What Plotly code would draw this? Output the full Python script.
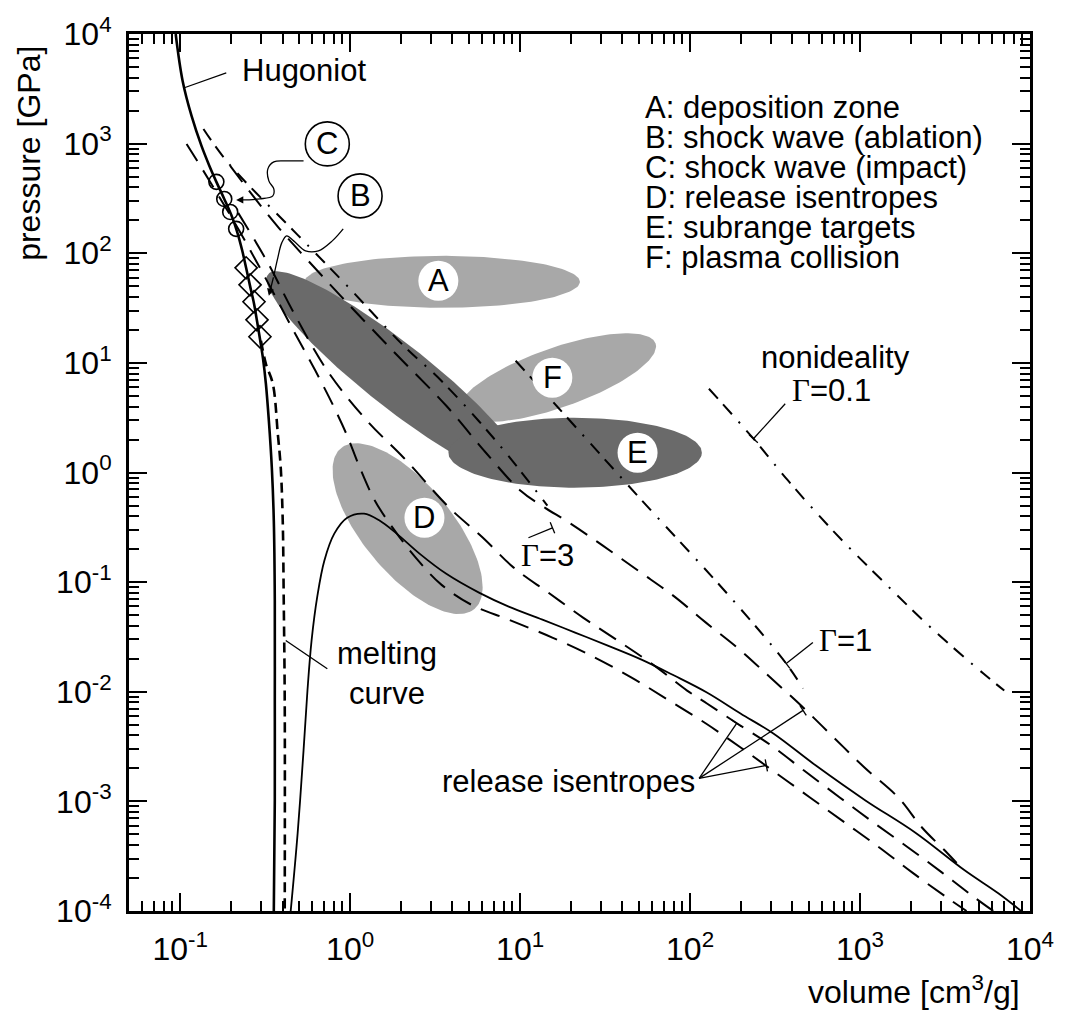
import math
import numpy as np
import plotly.graph_objects as go

# ---------------- curves (volume in cm^3/g, pressure in GPa) ----------------
hugoniot_v = [0.0941, 0.1034, 0.1167, 0.1335, 0.1486, 0.1633, 0.1817, 0.1997, 0.2164, 0.2314,
              0.2443, 0.2577, 0.2720, 0.2831, 0.2947, 0.3068, 0.3194, 0.3325, 0.3462, 0.3556,
              0.3604, 0.3604, 0.3604, 0.3556]
hugoniot_p = [1e4, 3729, 1789, 953, 626, 448, 313, 224, 157, 107,
              73.6, 50.4, 34.6, 24.2, 16.6, 11.1, 6.45, 2.97, 1.106, 0.364,
              0.0678, 0.00831, 0.00102, 1e-4]

impact_v = [0.1633, 0.1817, 0.1970, 0.2135]
impact_p = [448, 313, 238, 167]

ablation_v = [0.2443, 0.2577, 0.2720, 0.2831, 0.2947]
ablation_p = [73.6, 51.5, 36.1, 24.7, 17.3]

melting_v = [0.2987, 0.3194, 0.3509, 0.3753, 0.3906, 0.4013, 0.4068, 0.4123, 0.4123]
melting_p = [15.9, 9.81, 6.45, 2.26, 1.106, 0.364, 0.0678, 0.00831, 1e-4]

binodal_v = [0.447, 0.491, 0.532, 0.561, 0.593, 0.642, 0.705, 0.807, 0.961, 1.207,
             1.496, 1.879, 2.56, 3.68, 5.728, 8.568, 13.53, 21.07, 32.81, 51.8,
             80.66, 125.6, 198, 309, 550, 1076, 2108, 4123, 6506, 8870]
binodal_p = [1e-4, 5.1e-4, 2.92e-3, 0.01026, 0.0293, 0.0753, 0.157, 0.277, 0.387, 0.421,
             0.363, 0.277, 0.182, 0.119, 0.0802, 0.0598, 0.0455, 0.03464, 0.02637, 0.01965,
             0.01405, 0.00984, 0.00633, 0.00416, 0.00212, 0.00102, 5.2e-4, 2.35e-4, 1.45e-4, 1e-4]

isen_hi_v = [0.1970, 0.2683, 0.3802, 0.5465, 0.9605, 1.879, 3.679, 6.293, 10.07, 13.71,
             19.44, 30.68, 50.43, 79.58, 124.0, 195.6, 296.8, 449.9, 691.3, 1062,
             1677, 2314, 3237, 3961]
isen_hi_p = [626, 333.7, 170.4, 90.8, 35.3, 11.86, 4.06, 1.515, 0.6823, 0.4878,
             0.3485, 0.2151, 0.1246, 0.0753, 0.0427, 0.02425, 0.01347, 0.00748, 0.003904, 0.002037,
             0.001086, 5.78e-4, 3.42e-4, 2.45e-4]

isen_mid_v = [0.2194, 0.3281, 0.4589, 0.7343, 1.256, 2.065, 3.830, 6.044, 9.165, 14.66,
              23.46, 37.53, 61.67, 96.05, 125.7, 185.5, 300.8, 468.5, 759.5, 1199,
              1918, 3027, 4716, 6085]
isen_mid_p = [233.5, 81.7, 29.9, 8.47, 2.97, 1.364, 0.4776, 0.2544, 0.1356, 0.0802,
              0.0475, 0.0293, 0.01733, 0.01025, 0.00781, 0.00524, 0.00323, 0.00191, 0.001086, 6.42e-4,
              3.80e-4, 2.25e-4, 1.33e-4, 1e-4]

isen_lo_v = [0.1091, 0.1527, 0.2194, 0.3194, 0.4652, 0.6250, 0.7962, 0.9605, 1.128, 1.399,
             1.830, 2.459, 3.440, 5.145, 8.568, 15.47, 26.83, 45.29, 75.45, 124.0,
             198.4, 317.3, 507.6, 812.0, 1299, 2024, 3237, 4235]
isen_lo_p = [994, 429, 167, 58.4, 19.6, 8.47, 4.06, 2.165, 1.153, 0.5533,
             0.2947, 0.1637, 0.0949, 0.0624, 0.0455, 0.0312, 0.02094, 0.01347, 0.00831, 0.00513,
             0.0031, 0.001834, 0.001086, 6.42e-4, 3.80e-4, 2.25e-4, 1.33e-4, 1e-4]

gamma3_v = [0.1371, 0.1918, 0.4909, 0.9605, 2.065, 3.440, 7.197, 14.47]
gamma3_p = [1361, 667, 147.2, 50.44, 14.32, 6.868, 1.950, 0.498]

gamma1_v = [9.414, 16.77, 49.10, 173.4, 367.9, 461.9]
gamma1_p = [10.45, 3.896, 0.6145, 0.0722, 0.01807, 0.01070]

gamma01_v = [129.1, 236.2, 377.8, 710.1, 1353, 2647, 5319, 7055]
gamma01_p = [5.806, 2.033, 0.8418, 0.2827, 0.1032, 0.03768, 0.01465, 0.01025]

# shaded parameter regions: centre (V, P), semi-axes (px), tilt (deg)
region_name = ["A", "F", "D", "target band", "E"]
region_v = [3.485, 16.55, 2.178, 1.879, 21.07]
region_p = [54.87, 7.331, 0.3074, 7.627, 1.515]
region_a = [139, 105, 105, 165, 128]
region_b = [26, 30, 45, 32, 35]
region_tilt = [0, 19, -50, -38, 0]
region_dark = [False, False, False, True, True]

legend_lines = ["A: deposition zone", "B: shock wave (ablation)", "C: shock wave (impact)",
                "D: release isentropes", "E: subrange targets", "F: plasma collision"]

x_decades = [-1, 0, 1, 2, 3, 4]
y_decades = [-4, -3, -2, -1, 0, 1, 2, 3, 4]

# ---------------- layout geometry ----------------
W, H = 1066, 1014
ML, MR, MT, MB = 129, 27, 33, 103
X_RANGE = [math.log10(0.05), 4.0]
Y_RANGE = [-4.0, 4.0]
PXX = (W - ML - MR) / (X_RANGE[1] - X_RANGE[0])
PXY = (H - MT - MB) / (Y_RANGE[1] - Y_RANGE[0])

FONT = "Liberation Sans, Arial, Helvetica, sans-serif"
INK = "black"
LIGHT = "#a8a8a8"
DARK = "#6a6a6a"
TXT = 31

lg = math.log10


def ellipse(vc, pc, a, b, tilt):
    t = np.linspace(0, 2 * np.pi, 160)
    th = np.radians(tilt)
    dx = a * np.cos(t) * np.cos(th) - b * np.sin(t) * np.sin(th)
    dy = a * np.cos(t) * np.sin(th) + b * np.sin(t) * np.cos(th)
    return 10 ** (lg(vc) + dx / PXX), 10 ** (lg(pc) + dy / PXY)


def crossbar(v, p, v0, p0, half=6.0):
    dx = (lg(v) - lg(v0)) * PXX
    dy = (lg(p) - lg(p0)) * PXY
    n = math.hypot(dx, dy)
    nx, ny = -dy / n, dx / n
    xs = [10 ** (lg(v) + nx * half / PXX), 10 ** (lg(v) - nx * half / PXX)]
    ys = [10 ** (lg(p) + ny * half / PXY), 10 ** (lg(p) - ny * half / PXY)]
    return xs, ys


def minor_vals(lo, hi):
    vals = []
    for e in range(math.floor(lo) - 1, math.ceil(hi) + 1):
        for k in range(2, 10):
            v = k * 10.0 ** e
            if lo <= lg(v) <= hi:
                vals.append(v)
    return vals


fig = go.Figure()

# shaded regions (light first, dark on top)
for dark in (False, True):
    for i in range(len(region_name)):
        if region_dark[i] != dark:
            continue
        ex, ey = ellipse(region_v[i], region_p[i], region_a[i], region_b[i], region_tilt[i])
        fig.add_trace(go.Scatter(x=ex, y=ey, mode="lines", fill="toself",
                                 fillcolor=DARK if dark else LIGHT,
                                 line=dict(width=0, color=DARK if dark else LIGHT),
                                 hoverinfo="skip", name=region_name[i]))

DASHDOT = "13px,8px,13px,10px,2px,10px"
LONGDASH = "20px,11px"

for xs, ys in ((gamma01_v, gamma01_p), (gamma1_v, gamma1_p), (gamma3_v, gamma3_p)):
    fig.add_trace(go.Scatter(x=xs, y=ys, mode="lines", line_shape="spline",
                             line=dict(color=INK, width=2, dash=DASHDOT), hoverinfo="skip"))

for xs, ys in ((isen_hi_v, isen_hi_p), (isen_mid_v, isen_mid_p), (isen_lo_v, isen_lo_p)):
    fig.add_trace(go.Scatter(x=xs, y=ys, mode="lines", line_shape="spline",
                             line=dict(color=INK, width=2, dash=LONGDASH), hoverinfo="skip"))

fig.add_trace(go.Scatter(x=binodal_v, y=binodal_p, mode="lines", line_shape="spline",
                         line=dict(color=INK, width=1.8), hoverinfo="skip"))
fig.add_trace(go.Scatter(x=melting_v, y=melting_p, mode="lines", line_shape="spline",
                         line=dict(color=INK, width=2.6, dash="10px,6px"), hoverinfo="skip"))
fig.add_trace(go.Scatter(x=hugoniot_v, y=hugoniot_p, mode="lines", line_shape="spline",
                         line=dict(color=INK, width=2.6), hoverinfo="skip"))

# leader lines to the labels
leaders = [
    ((0.1867, 4412), (0.1048, 3217), False),
    ((0.734, 0.0162), (0.418, 0.0293), False),
    ((11.2, 0.254), (15.5, 0.313), True),
    ((528, 0.0281), (368, 0.01807), True),
    ((363, 4.24), (236, 2.03), True),
    ((113, 0.00162), (188, 0.00514), True),
    ((113, 0.00162), (462, 0.00676), True),
    ((113, 0.00162), (281, 0.00213), True),
]
lx, ly = [], []
for (v0, p0), (v1, p1), bar in leaders:
    lx += [v0, v1, None]
    ly += [p0, p1, None]
    if bar:
        bx, by = crossbar(v1, p1, v0, p0)
        lx += bx + [None]
        ly += by + [None]
fig.add_trace(go.Scatter(x=lx, y=ly, mode="lines", line=dict(color=INK, width=1.3),
                         hoverinfo="skip"))

# wavy leaders of the circled labels
c_lead_v = [0.5322, 0.4178, 0.3556, 0.3281, 0.3325, 0.3556, 0.3509, 0.2947, 0.2253]
c_lead_p = [695.6, 695.6, 681.1, 588.0, 457.1, 386.4, 333.7, 313.3, 306.8]
b_lead_v = [0.9103, 0.7853, 0.6508, 0.5465, 0.4652, 0.4234, 0.3960, 0.3753, 0.3556]
b_lead_p = [166.9, 129.7, 105.2, 105.2, 129.7, 144.1, 124.4, 90.8, 62.2]
for xs, ys in ((c_lead_v, c_lead_p), (b_lead_v, b_lead_p)):
    fig.add_trace(go.Scatter(x=xs, y=ys, mode="lines", line_shape="spline",
                             line=dict(color=INK, width=1.3), hoverinfo="skip"))

# shock states on the Hugoniot
fig.add_trace(go.Scatter(x=impact_v, y=impact_p, mode="markers",
                         marker=dict(symbol="circle-open", size=15, color=INK,
                                     line=dict(width=1.6, color=INK)), hoverinfo="skip"))
fig.add_trace(go.Scatter(x=ablation_v, y=ablation_p, mode="markers",
                         marker=dict(symbol="diamond-open", size=17, color=INK,
                                     line=dict(width=1.6, color=INK)), hoverinfo="skip"))

# white discs behind region letters, outlined circles for B and C
disc_v = [3.304, 15.47, 49.10, 2.737]
disc_p = [56.0, 7.33, 1.515, 0.387]
disc_t = ["A", "F", "E", "D"]
fig.add_trace(go.Scatter(x=disc_v, y=disc_p, mode="markers",
                         marker=dict(symbol="circle", size=40, color="white",
                                     line=dict(width=0)), hoverinfo="skip"))
ring_v = [0.734, 1.144]
ring_p = [994, 333.7]
ring_t = ["C", "B"]
fig.add_trace(go.Scatter(x=ring_v, y=ring_p, mode="markers",
                         marker=dict(symbol="circle", size=44, color="white",
                                     line=dict(width=1.6, color=INK)), hoverinfo="skip"))

ann = []


def label(text, v, p, size=TXT, xanchor="center", yanchor="middle"):
    ann.append(dict(x=lg(v), y=lg(p), xref="x", yref="y", text=text, showarrow=False,
                    xanchor=xanchor, yanchor=yanchor,
                    font=dict(family=FONT, size=size, color=INK)))


for t, v, p in zip(disc_t, disc_v, disc_p):
    label(t, v, p)
for t, v, p in zip(ring_t, ring_v, ring_p):
    label(t, v, p)

legend_p = [2116, 1127, 600.5, 319.9, 170.4, 90.8]
for t, p in zip(legend_lines, legend_p):
    label(t, 52.5, p, xanchor="left")

GAM = '<span style="font-family:Liberation Serif, Times New Roman, serif">Γ</span>'
label("Hugoniot", 0.2253, 4600, xanchor="left")
label("nonideality", 719.7, 11.3)
label(GAM + "=0.1", 682, 5.60)
label(GAM + "=1", 823, 0.0293)
label(GAM + "=3", 14.47, 0.1744)
label("melting<br>curve", 1.643, 0.01456)
label("release isentropes", 19.18, 0.001515)

# arrowheads at the ends of the wavy leaders
for tip, tail in (((0.2135, 306.8), (0.2253, 306.8)), ((0.3325, 40.9), (0.3556, 62.2))):
    ann.append(dict(x=lg(tip[0]), y=lg(tip[1]), ax=lg(tail[0]), ay=lg(tail[1]),
                    xref="x", yref="y", axref="x", ayref="y", text="", showarrow=True,
                    arrowhead=2, arrowsize=1.1, arrowwidth=1.3, arrowcolor=INK))

# axis titles
ann.append(dict(x=(28 - ML) / (W - ML - MR), y=(H - MB - 152) / (H - MT - MB),
                xref="paper", yref="paper", text="pressure [GPa]", textangle=-90,
                showarrow=False, xanchor="center", yanchor="middle",
                font=dict(family=FONT, size=32, color=INK)))
ann.append(dict(x=(1031 - ML) / (W - ML - MR), y=(H - MB - 990) / (H - MT - MB),
                xref="paper", yref="paper", text="volume [cm<sup>3</sup>/g]",
                showarrow=False, xanchor="right", yanchor="middle",
                font=dict(family=FONT, size=32, color=INK)))


def axis_style(decades, rng):
    return dict(
        type="log", range=rng, showgrid=False, zeroline=False, showline=True,
        linecolor=INK, linewidth=3, mirror="ticks",
        ticks="inside", ticklen=18, tickwidth=2, tickcolor=INK,
        tickmode="array", tickvals=[10.0 ** d for d in decades],
        ticktext=["10<sup>%d</sup>" % d for d in decades],
        ticklabelstandoff=8,
        tickfont=dict(family=FONT, size=32, color=INK),
        minor=dict(ticks="inside", ticklen=10, tickwidth=1.6, tickcolor=INK, showgrid=False,
                   tickmode="array", tickvals=minor_vals(rng[0], rng[1])),
    )


fig.update_layout(
    width=W, height=H,
    margin=dict(l=ML, r=MR, t=MT, b=MB),
    paper_bgcolor="white", plot_bgcolor="white",
    showlegend=False,
    xaxis=axis_style(x_decades, X_RANGE),
    yaxis=axis_style(y_decades, Y_RANGE),
    annotations=ann,
)

fig.write_html("out.html")
